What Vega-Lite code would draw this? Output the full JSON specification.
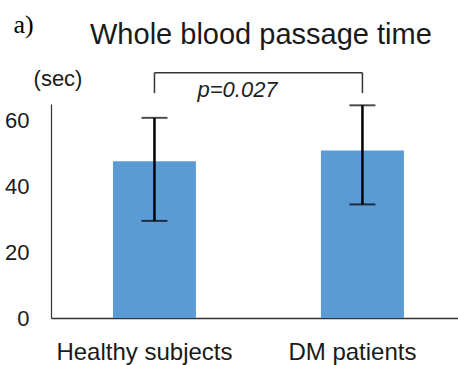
{
  "$schema": "https://vega.github.io/schema/vega-lite/v6.json",
  "autosize": "none",
  "width": 407,
  "height": 214,
  "padding": {"left": 51, "top": 104, "right": 0, "bottom": 47},
  "background": "white",
  "config": {"view": {"stroke": null}},
  "title": {
    "text": "Whole blood passage time",
    "anchor": "start",
    "frame": "group",
    "dx": 39,
    "dy": 72,
    "font": "Liberation Sans",
    "fontSize": 29,
    "fontWeight": "normal",
    "color": "#1a1a1a",
    "baseline": "alphabetic",
    "offset": 10
  },
  "datasets": {
    "bars": [
      {"group": "Healthy subjects", "mean": 47.6, "lo": 29.5, "hi": 60.8},
      {"group": "DM patients", "mean": 50.9, "lo": 34.5, "hi": 64.6}
    ],
    "bracket": [
      {"from": "Healthy subjects", "to": "DM patients", "top": 74.5, "bottom": 68.3, "label": "p=0.027", "labelY": 67.1}
    ]
  },
  "encoding": {
    "x": {
      "field": "group",
      "type": "nominal",
      "sort": null,
      "scale": {"paddingInner": 0.601, "paddingOuter": 0.279, "align": 0.534},
      "axis": {
        "title": "a)",
        "titleX": -38,
        "titleY": -286,
        "titleAlign": "left",
        "titleBaseline": "alphabetic",
        "titleFont": "Liberation Serif",
        "titleFontSize": 26,
        "titleFontWeight": "normal",
        "titleColor": "#000000",
        "labelAngle": 0,
        "labelFont": "Liberation Sans",
        "labelFontSize": 24,
        "labelColor": "#1a1a1a",
        "labelPadding": 22,
        "labelOffset": -10,
        "labelLimit": 400,
        "ticks": false,
        "grid": false,
        "domainColor": "#333333",
        "domainWidth": 1.5
      }
    }
  },
  "layer": [
    {
      "data": {"name": "bars"},
      "mark": {"type": "bar", "color": "#5B9BD5"},
      "encoding": {
        "y": {
          "field": "mean",
          "type": "quantitative",
          "scale": {"domain": [0, 65], "nice": false},
          "axis": {
            "title": "(sec)",
            "titleAngle": 0,
            "titleX": 6.5,
            "titleY": -19,
            "titleAlign": "center",
            "titleBaseline": "alphabetic",
            "titleFont": "Liberation Sans",
            "titleFontSize": 22,
            "titleFontWeight": "normal",
            "titleColor": "#1a1a1a",
            "values": [0, 20, 40, 60],
            "labelFont": "Liberation Sans",
            "labelFontSize": 22,
            "labelColor": "#1a1a1a",
            "labelPadding": 22,
            "ticks": false,
            "grid": false,
            "domainColor": "#333333",
            "domainWidth": 1.2
          }
        }
      }
    },
    {
      "data": {"name": "bars"},
      "mark": {"type": "rule", "color": "#000000", "strokeWidth": 2.5},
      "encoding": {
        "y": {"field": "lo", "type": "quantitative"},
        "y2": {"field": "hi"}
      }
    },
    {
      "data": {"name": "bars"},
      "mark": {"type": "tick", "color": "#000000", "size": 26, "thickness": 2},
      "encoding": {"y": {"field": "lo", "type": "quantitative"}}
    },
    {
      "data": {"name": "bars"},
      "mark": {"type": "tick", "color": "#000000", "size": 26, "thickness": 2},
      "encoding": {"y": {"field": "hi", "type": "quantitative"}}
    },
    {
      "data": {"name": "bracket"},
      "mark": {"type": "rule", "color": "#333333", "strokeWidth": 1.5},
      "encoding": {
        "x": {"field": "from", "type": "nominal"},
        "x2": {"field": "to"},
        "y": {"field": "top", "type": "quantitative"}
      }
    },
    {
      "data": {"name": "bracket"},
      "mark": {"type": "rule", "color": "#333333", "strokeWidth": 1.5},
      "encoding": {
        "x": {"field": "from", "type": "nominal"},
        "y": {"field": "top", "type": "quantitative"},
        "y2": {"field": "bottom"}
      }
    },
    {
      "data": {"name": "bracket"},
      "mark": {"type": "rule", "color": "#333333", "strokeWidth": 1.5},
      "encoding": {
        "x": {"field": "to", "type": "nominal"},
        "y": {"field": "top", "type": "quantitative"},
        "y2": {"field": "bottom"}
      }
    },
    {
      "data": {"name": "bracket"},
      "mark": {
        "type": "text",
        "align": "left",
        "baseline": "alphabetic",
        "dx": 43,
        "font": "Liberation Sans",
        "fontSize": 22,
        "fontStyle": "italic",
        "color": "#222222"
      },
      "encoding": {
        "x": {"field": "from", "type": "nominal"},
        "y": {"field": "labelY", "type": "quantitative"},
        "text": {"field": "label"}
      }
    }
  ]
}
